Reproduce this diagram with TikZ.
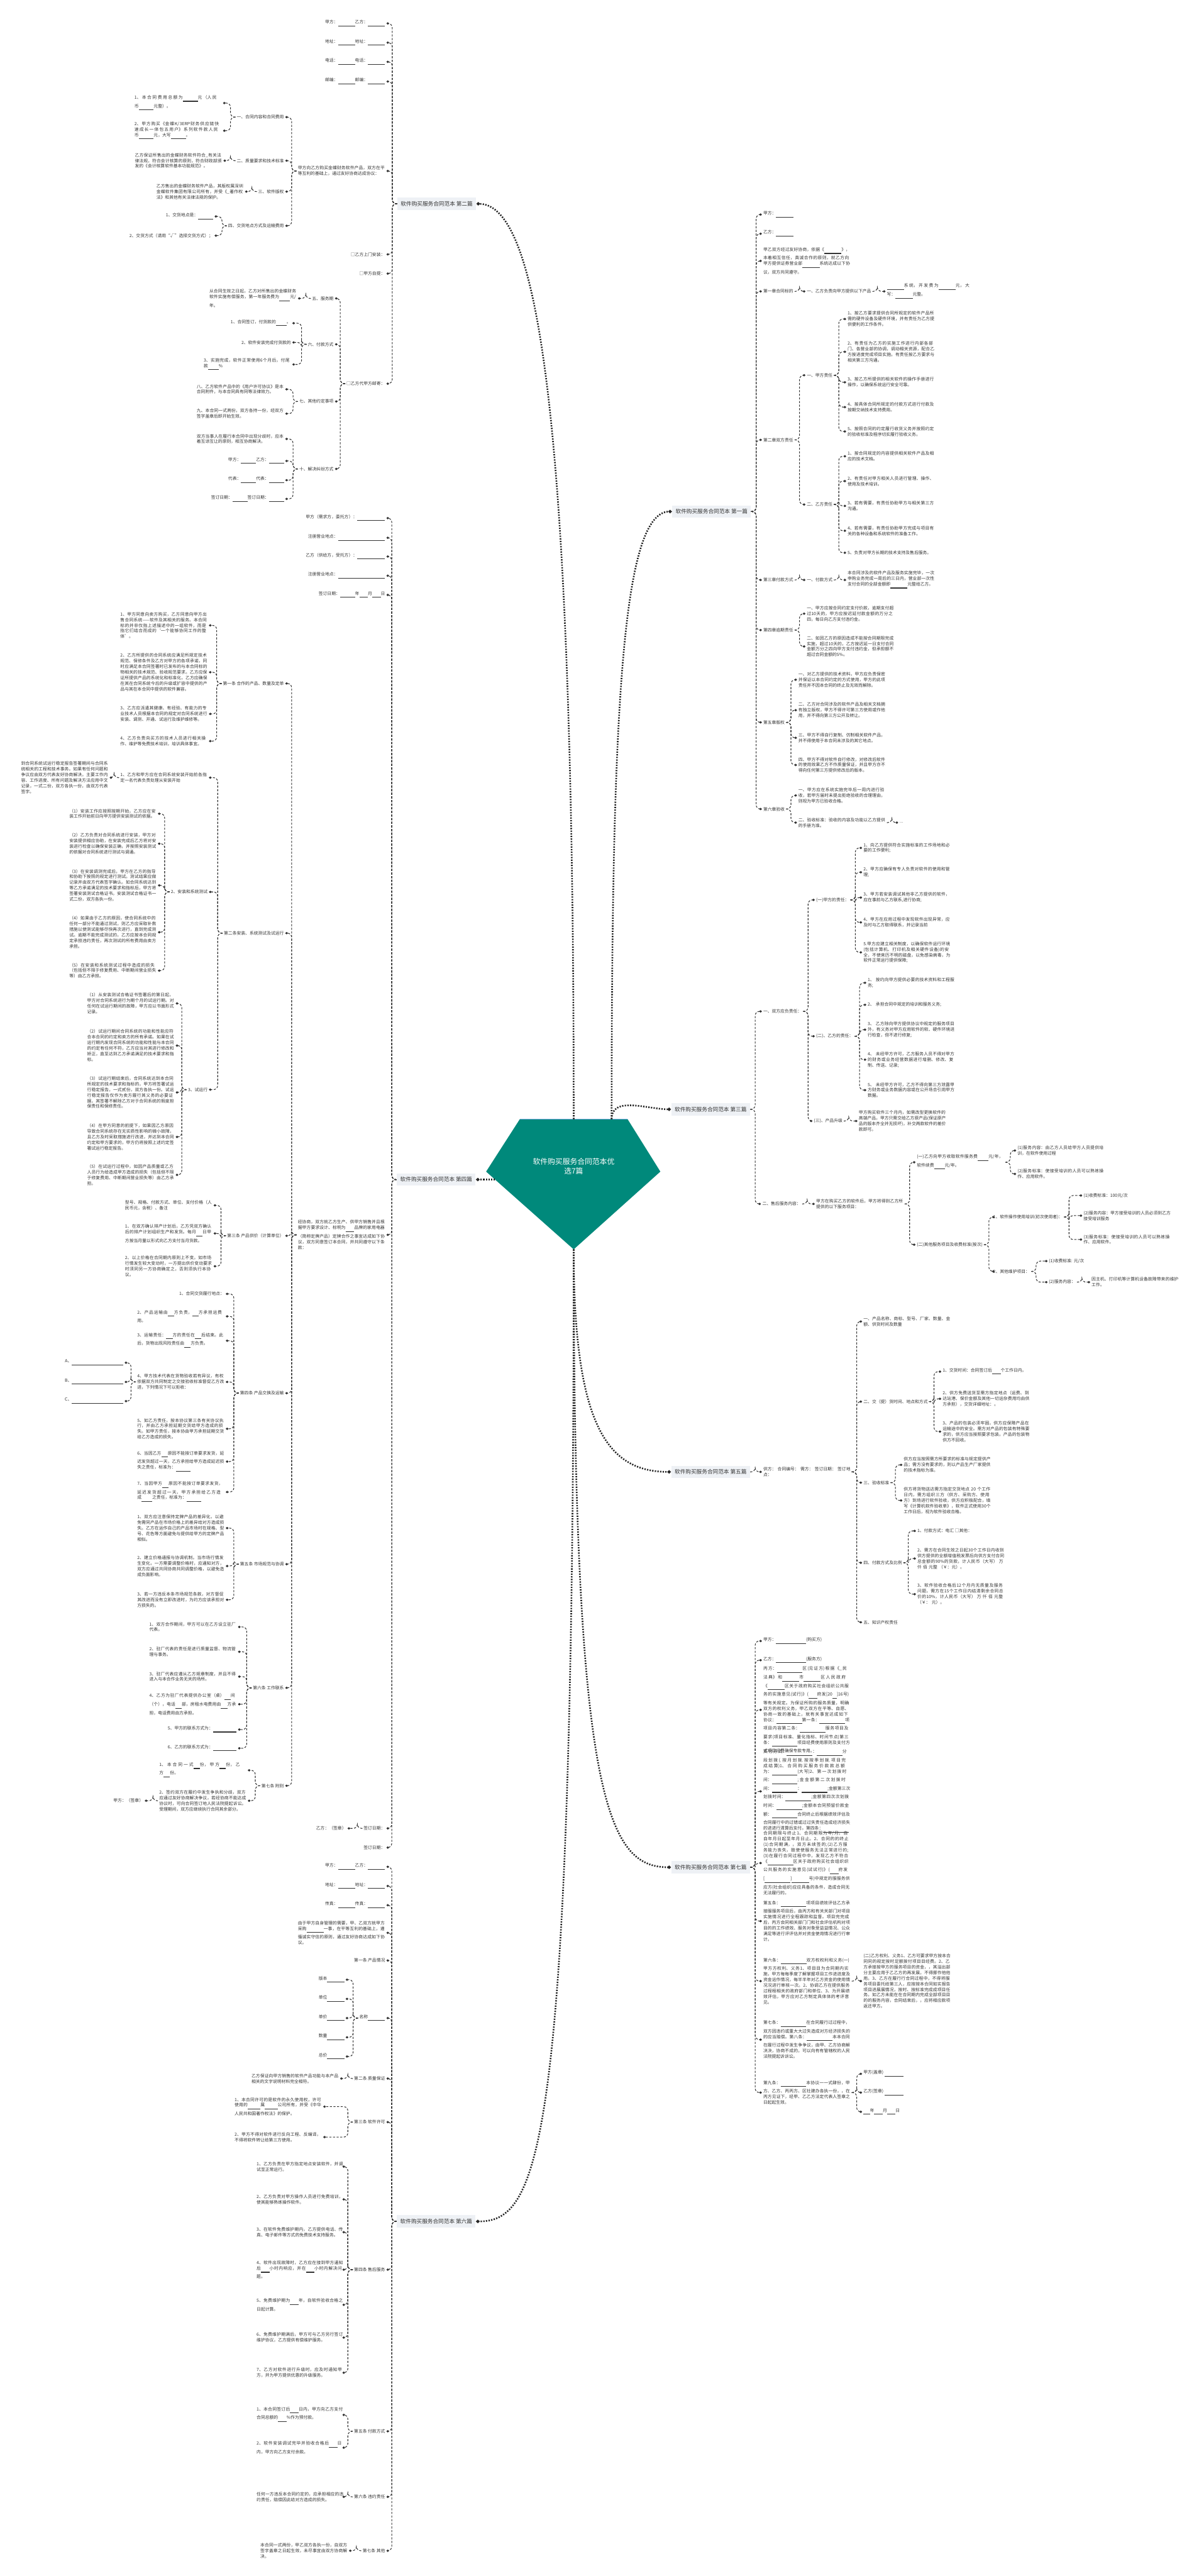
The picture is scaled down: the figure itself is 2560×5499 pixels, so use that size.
\documentclass[tikz,border=0pt]{standalone}
\usepackage{fontspec}
\setmainfont{Noto Sans CJK SC}
\XeTeXlinebreaklocale "zh"
\XeTeXlinebreakskip = 0pt plus 1pt
\usetikzlibrary{arrows.meta, positioning}
\definecolor{hubfill}{RGB}{0,137,123}
\definecolor{hubline}{RGB}{120,170,220}
\definecolor{partbg}{RGB}{238,241,245}
\definecolor{ink}{RGB}{51,51,51}
\newcommand{\bk}[1]{\underline{\hspace{#1em}}}

\begin{document}
\begin{tikzpicture}[
    x=0.01cm, y=-0.01cm,
    leaf/.style={font=\fontsize{2.6pt}{3.4pt}\selectfont, text width=1.86cm, align=left, inner sep=0.6pt, text=ink},
    tag/.style={font=\fontsize{2.6pt}{3.4pt}\selectfont, inner sep=0.6pt, text=ink},
    part/.style={font=\fontsize{3.3pt}{4pt}\selectfont, fill=partbg, inner xsep=2pt, inner ysep=2.2pt, text=ink},
    link/.style={dash pattern=on 1.3pt off 0.9pt, line width=0.4pt, draw=ink, rounded corners=0.9mm, -{Diamond[length=1.7pt,width=1.5pt]}},
    trunk/.style={dash pattern=on 0.8pt off 0.8pt, line width=1pt, draw=black!85, -{Diamond[length=2.4pt,width=2.2pt]}}
]
\path[use as bounding box, fill=white] (0,0) rectangle (2560,5499);

% hub
\fill[hubfill] (1110,2389) -- (1340,2389) -- (1410,2501) -- (1225,2667) -- (1038,2501) -- cycle;
\draw[hubline, line width=0.6pt] (1110,2389) -- (1340,2389);
\node[font=\fontsize{4.5pt}{5.6pt}\selectfont, text=white, align=center] (hub) at (1225,2490) {软件购买服务合同范本优\\选7篇};
\coordinate (hubN) at (1225,2389);
\coordinate (hubNE) at (1306,2389);
\coordinate (hubS) at (1225,2667);
\coordinate (hubW) at (1057,2518);

% branch labels
\node[part, anchor=west] (p1) at (1435,1092) {软件购买服务合同范本 第一篇};
\node[part, anchor=west] (p3) at (1433,2368) {软件购买服务合同范本 第三篇};
\node[part, anchor=west] (p5) at (1433,3142) {软件购买服务合同范本 第五篇};
\node[part, anchor=west] (p7) at (1433,3986) {软件购买服务合同范本 第七篇};
\node[part, anchor=east] (p2) at (1017,435) {软件购买服务合同范本 第二篇};
\node[part, anchor=east] (p4) at (1016,2518) {软件购买服务合同范本 第四篇};
\node[part, anchor=east] (p6) at (1016,4742) {软件购买服务合同范本 第六篇};

\draw[trunk] (hubNE) .. controls (1306,1500) and (1330,1092) .. (p1.west);
\draw[trunk] (hubNE) to[out=90,in=180] (p3.west);
\draw[trunk] (hubS) .. controls (1225,3050) and (1300,3142) .. (p5.west);
\draw[trunk] (hubS) .. controls (1225,3850) and (1300,3986) .. (p7.west);
\draw[trunk] (hubN) .. controls (1225,900) and (1150,435) .. (p2.east);
\draw[trunk] (hubW) -- (p4.east);
\draw[trunk] (hubS) .. controls (1225,4600) and (1150,4742) .. (p6.east);

% ---------- 第一篇
\node[tag, anchor=west] (p1a) at (1627,458) {甲方：\bk{4}};
\node[tag, anchor=west] (p1b) at (1627,499) {乙方：\bk{4}};
\node[leaf, anchor=west] (p1c) at (1627,557) {甲乙双方经过友好协商，依据《\bk{4}》，本着相互信任，真诚合作的原则，就乙方向甲方提供证券营业部\bk{4}系统达成以下协议，双方共同遵守。};
\node[tag, anchor=west] (p1d) at (1627,622) {第一章合同标的};
\node[tag, anchor=west] (p1d1) at (1720,622) {一、乙方负责向甲方提供以下产品};
\node[leaf, anchor=west] (p1d1a) at (1891,622) {\bk{4}系统，开发费为\bk{4}元，大写：\bk{4}元整。};
\node[tag, anchor=west] (p1e) at (1627,939) {第二章双方责任};
\node[tag, anchor=west] (p1e1) at (1720,801) {一、甲方责任};
\node[leaf, anchor=west] (p1e1a) at (1807,681) {1、按乙方要求提供合同所规定的软件产品所需的硬件设备及硬件环境，并有责任为乙方提供便利的工作条件。};
\node[leaf, anchor=west] (p1e1b) at (1807,751) {2、有责任为乙方的实施工作进行内部各部门、各营业部的协调，调动相关资源，配合乙方按进度完成项目实施。有责任按乙方要求与相关第三方沟通。};
\node[leaf, anchor=west] (p1e1c) at (1807,816) {3、按乙方所提供的相关软件的操作手册进行操作，以确保系统运行安全可靠。};
\node[leaf, anchor=west] (p1e1d) at (1807,869) {4、按具体合同所规定的付款方式进行付款及按期交纳技术支持费用。};
\node[leaf, anchor=west] (p1e1e) at (1807,921) {5、按照合同的约定履行收货义务并按照约定的验收标准及程序切实履行验收义务。};
\node[tag, anchor=west] (p1e2) at (1720,1077) {二、乙方责任};
\node[leaf, anchor=west] (p1e2a) at (1807,974) {1、按合同规定的内容提供相关软件产品及相应的技术文档。};
\node[leaf, anchor=west] (p1e2b) at (1807,1027) {2、有责任对甲方相关人员进行管理、操作、使用及技术培训。};
\node[leaf, anchor=west] (p1e2c) at (1807,1080) {3、若有需要，有责任协助甲方与相关第三方沟通。};
\node[leaf, anchor=west] (p1e2d) at (1807,1133) {4、若有需要，有责任协助甲方完成与项目有关的各种设备和系统软件的准备工作。};
\node[leaf, anchor=west] (p1e2e) at (1807,1180) {5、负责对甲方长期的技术支持及售后服务。};
\node[tag, anchor=west] (p1f) at (1627,1238) {第三章付款方式};
\node[tag, anchor=west] (p1f1) at (1720,1238) {一、付款方式};
\node[leaf, anchor=west] (p1f1a) at (1807,1238) {本合同涉及的软件产品及服务实施完毕，一次申购业务完成一周后的三日内，营业部一次性支付合同的全部金额即\bk{4}元整给乙方。};
\node[tag, anchor=west] (p1g) at (1627,1345) {第四章逾期责任};
\node[leaf, anchor=west] (p1g1) at (1720,1310) {一、甲方应按合同约定支付价款，逾期支付超过10天的，甲方应按迟延付款金额的万分之四，每日向乙方支付违约金。};
\node[leaf, anchor=west] (p1g2) at (1720,1380) {二、如因乙方的原因造成不能按合同期限完成实施，超过10天的，乙方按迟延一日支付合同金额万分之四向甲方支付违约金，但承担额不超过合同金额的5\%。};
\node[tag, anchor=west] (p1h) at (1627,1542) {第五章版权};
\node[leaf, anchor=west] (p1h1) at (1702,1451) {一、对乙方提供的技术资料，甲方应负责保密并保证以本合同约定的方式使用，甲方的此项责任并不因本合同的终止及无效而解除。};
\node[leaf, anchor=west] (p1h2) at (1702,1516) {二、乙方对合同涉及的软件产品及相关文档拥有独立版权，甲方不得许可第三方使用或作他用，并不得向第三方公开及转让。};
\node[leaf, anchor=west] (p1h3) at (1702,1575) {三、甲方不得自行复制、仿制相关软件产品，并不得使用于本合同未涉及的其它地点。};
\node[leaf, anchor=west] (p1h4) at (1702,1633) {四、甲方不得对软件自行修改，对修改后软件的使用效果乙方不作质量保证，并且甲方亦不得向任何第三方提供修改后的版本。};
\node[tag, anchor=west] (p1i) at (1627,1727) {第六章验收};
\node[leaf, anchor=west] (p1i1) at (1702,1698) {一、甲方应在系统实施完毕后一周内进行验收，若甲方届时未提出拒绝验收的合理理由，则视为甲方已验收合格。};
\node[leaf, anchor=west] (p1i2) at (1702,1756) {二、验收标准：验收的内容及功能以乙方提供的手册为准。};
\node[tag, anchor=west] (p1i2a) at (1918,1756) {...};

\foreach \ch in {p1a,p1b,p1c,p1d,p1e,p1f,p1g,p1h,p1i} \draw[link] (p1.east) -- ++(3pt,0) |- (\ch.west);
\draw[link] (p1d.east) -- ++(3pt,0) |- (p1d1.west);
\draw[link] (p1d1.east) -- ++(3pt,0) |- (p1d1a.west);
\foreach \ch in {p1e1,p1e2} \draw[link] (p1e.east) -- ++(3pt,0) |- (\ch.west);
\foreach \ch in {p1e1a,p1e1b,p1e1c,p1e1d,p1e1e} \draw[link] (p1e1.east) -- ++(3pt,0) |- (\ch.west);
\foreach \ch in {p1e2a,p1e2b,p1e2c,p1e2d,p1e2e} \draw[link] (p1e2.east) -- ++(3pt,0) |- (\ch.west);
\draw[link] (p1f.east) -- ++(3pt,0) |- (p1f1.west);
\draw[link] (p1f1.east) -- ++(3pt,0) |- (p1f1a.west);
\foreach \ch in {p1g1,p1g2} \draw[link] (p1g.east) -- ++(3pt,0) |- (\ch.west);
\foreach \ch in {p1h1,p1h2,p1h3,p1h4} \draw[link] (p1h.east) -- ++(3pt,0) |- (\ch.west);
\foreach \ch in {p1i1,p1i2} \draw[link] (p1i.east) -- ++(3pt,0) |- (\ch.west);
\draw[link] (p1i2.east) -- ++(3pt,0) |- (p1i2a.west);

% ---------- 第三篇
\node[tag, anchor=west] (p3a) at (1627,2159) {一、双方应负责任：};
\node[tag, anchor=west] (p3a1) at (1740,1921) {(一)甲方的责任：};
\node[leaf, anchor=west] (p3a1a) at (1841,1810) {1、向乙方提供符合实施标准的工作场地和必要的工作便利;};
\node[leaf, anchor=west] (p3a1b) at (1841,1862) {2、甲方应确保有专人负责对软件的使用和管理;};
\node[leaf, anchor=west] (p3a1c) at (1841,1916) {3、甲方若安装调试其他非乙方提供的软件，应在事前与乙方联系,进行协商;};
\node[leaf, anchor=west] (p3a1d) at (1841,1969) {4、甲方在应用过程中发现软件出现异常，应及时与乙方取得联系，并记录当前};
\node[leaf, anchor=west] (p3a1e) at (1841,2033) {5.甲方应建立相关制度，以确保软件运行环境(包括计算机、打印机及相关硬件设备)的安全，不使来历不明的磁盘，以免感染病毒，为软件正常运行提供保障;};
\node[tag, anchor=west] (p3a2) at (1740,2212) {(二)、乙方的责任：};
\node[leaf, anchor=west] (p3a2a) at (1850,2098) {1、 按约向甲方提供必要的技术资料和工程服务;};
\node[leaf, anchor=west] (p3a2b) at (1850,2145) {2、 承担合同中规定的培训和服务义务;};
\node[leaf, anchor=west] (p3a2c) at (1850,2198) {3、 乙方除向甲方提供协议中规定的服务项目外，有义务对甲方应用软件的软、硬件环境进行检查，但不进行修复;};
\node[leaf, anchor=west] (p3a2d) at (1850,2262) {4、 未经甲方许可，乙方服务人员不得对甲方的财务或业务经营数据进行增删、修改、复制、传送、记录;};
\node[leaf, anchor=west] (p3a2e) at (1850,2327) {5、 未经甲方许可，乙方不得向第三方泄露甲方财务或业务数据内容或在公开场合引用甲方数据。};
\node[tag, anchor=west] (p3a3) at (1735,2393) {(三)、产品升级};
\node[leaf, anchor=west] (p3a3a) at (1831,2393) {甲方购买软件三个月内，如需改型更换软件的高端产品，甲方只需交给乙方原产品(保证原产品的版本齐全并无损坏)，补交两款软件的差价款即可。};
\node[tag, anchor=west] (p3b) at (1625,2570) {二、售后服务内容：};
\node[leaf, anchor=west] (p3b1) at (1740,2570) {甲方在购买乙方的软件后，甲方将得到乙方所提供的以下服务项目：};
\node[leaf, anchor=west] (p3b1a) at (1955,2481) {(一)乙方向甲方收取软件服务费\bk{2.5}元/年，软件续费\bk{2.5}元/年。};
\node[leaf, anchor=west] (p3b1a1) at (2170,2456) {(1)服务内容：由乙方人员给甲方人员提供培训，在软件使用过程};
\node[leaf, anchor=west] (p3b1a2) at (2170,2506) {(2)服务标准：使接受培训的人员可以熟练操作、应用软件。};
\node[tag, anchor=west] (p3b1b) at (1955,2657) {(二)其他服务项目及收费标准(按次)};
\node[tag, anchor=west] (p3b1b1) at (2118,2598) {1、软件操作使用培训(初次使用者)：};
\node[tag, anchor=west] (p3b1b1a) at (2311,2552) {(1)收费标准：100元/次};
\node[leaf, anchor=west] (p3b1b1b) at (2311,2595) {(2)服务内容：甲方接受培训的人员必须到乙方接受培训服务};
\node[leaf, anchor=west] (p3b1b1c) at (2311,2646) {(3)服务标准：使接受培训的人员可以熟练操作、应用软件。};
\node[tag, anchor=west] (p3b1b2) at (2118,2714) {2、其他维护项目：};
\node[tag, anchor=west] (p3b1b2a) at (2237,2692) {(1)收费标准: 元/次};
\node[tag, anchor=west] (p3b1b2b) at (2237,2737) {(2)服务内容：};
\node[leaf, anchor=west] (p3b1b2b1) at (2328,2737) {因主机、打印机等计算机设备故障带来的维护工作。};

\foreach \ch in {p3a,p3b} \draw[link] (p3.east) -- ++(3pt,0) |- (\ch.west);
\foreach \ch in {p3a1,p3a2,p3a3} \draw[link] (p3a.east) -- ++(3pt,0) |- (\ch.west);
\foreach \ch in {p3a1a,p3a1b,p3a1c,p3a1d,p3a1e} \draw[link] (p3a1.east) -- ++(3pt,0) |- (\ch.west);
\foreach \ch in {p3a2a,p3a2b,p3a2c,p3a2d,p3a2e} \draw[link] (p3a2.east) -- ++(3pt,0) |- (\ch.west);
\draw[link] (p3a3.east) -- ++(3pt,0) |- (p3a3a.west);
\draw[link] (p3b.east) -- ++(3pt,0) |- (p3b1.west);
\foreach \ch in {p3b1a,p3b1b} \draw[link] (p3b1.east) -- ++(3pt,0) |- (\ch.west);
\foreach \ch in {p3b1a1,p3b1a2} \draw[link] (p3b1a.east) -- ++(3pt,0) |- (\ch.west);
\foreach \ch in {p3b1b1,p3b1b2} \draw[link] (p3b1b.east) -- ++(3pt,0) |- (\ch.west);
\foreach \ch in {p3b1b1a,p3b1b1b,p3b1b1c} \draw[link] (p3b1b1.east) -- ++(3pt,0) |- (\ch.west);
\foreach \ch in {p3b1b2a,p3b1b2b} \draw[link] (p3b1b2.east) -- ++(3pt,0) |- (\ch.west);
\draw[link] (p3b1b2b.east) -- ++(3pt,0) |- (p3b1b2b1.west);

% ---------- 第五篇
\node[leaf, anchor=west] (p5a) at (1627,3142) {供方：\ 合同编号：\ 需方：\ 签订日期：\ 签订地点：};
\node[leaf, anchor=west] (p5a1) at (1841,2821) {一、产品名称、商标、型号、厂家、数量、金额、供货时间及数量};
\node[tag, anchor=west] (p5a2) at (1841,2992) {二、交（提）货时间、地点和方式};
\node[leaf, anchor=west] (p5a2a) at (2010,2928) {1、交货时间：合同签订后\bk{2}个工作日内。};
\node[leaf, anchor=west] (p5a2b) at (2010,2986) {2、供方免费送货至需方指定地点（运费、到达站港、保价金额及其他一切运杂费用均由供方承担），交货详细地址：。};
\node[leaf, anchor=west] (p5a2c) at (2010,3056) {3、产品的包装必须牢固，供方应保障产品在运输途中的安全。需方对产品的包装有特殊要求的，供方应当按照要求包装。产品的包装物供方不回收。};
\node[tag, anchor=west] (p5a3) at (1841,3165) {三、验收标准};
\node[leaf, anchor=west] (p5a3a) at (1927,3127) {供方应当按照需方所要求的标准与规定提供产品；需方没有要求的，则以产品生产厂家提供的技术指标为准。};
\node[leaf, anchor=west] (p5a3b) at (1927,3203) {供方将货物送达需方指定交货地点 20 个工作日内，需方组织三方（供方、采购方、使用方）到场进行软件验收，供方应积极配合，填写《计算机软件验收单》，软件正式使用30个工作日后，视为软件验收合格。};
\node[tag, anchor=west] (p5a4) at (1841,3336) {四、付款方式及比例};
\node[tag, anchor=west] (p5a4a) at (1956,3268) {1、付款方式：电汇 □其他：};
\node[leaf, anchor=west] (p5a4b) at (1956,3327) {2、需方在合同生效之日起30个工作日内收到供方提供的全额增值税发票后向供方支付合同总金额的90\%的货款，计人民币（大写） 万 仟 佰 元整 （￥：元）。};
\node[leaf, anchor=west] (p5a4c) at (1956,3403) {3、软件验收合格后12个月内无质量及服务问题，需方在15个工作日内结清剩余合同总价的10\%，计人民币（大写） 万 仟 佰 元整（￥： 元）。};
\node[tag, anchor=west] (p5a5) at (1841,3463) {五、知识产权责任};

\draw[link] (p5.east) -- ++(3pt,0) |- (p5a.west);
\foreach \ch in {p5a1,p5a2,p5a3,p5a4,p5a5} \draw[link] (p5a.east) -- ++(3pt,0) |- (\ch.west);
\foreach \ch in {p5a2a,p5a2b,p5a2c} \draw[link] (p5a2.east) -- ++(3pt,0) |- (\ch.west);
\foreach \ch in {p5a3a,p5a3b} \draw[link] (p5a3.east) -- ++(3pt,0) |- (\ch.west);
\foreach \ch in {p5a4a,p5a4b,p5a4c} \draw[link] (p5a4.east) -- ++(3pt,0) |- (\ch.west);

% ---------- 第七篇
\node[tag, anchor=west] (p7a) at (1627,3503) {甲方：\bk{7}(购买方)};
\node[tag, anchor=west] (p7b) at (1627,3544) {乙方：\bk{7}(服务方)};
\node[leaf, anchor=west] (p7c) at (1627,3650) {丙方：\bk{6}区(见证方)根据《\_民法典》和\bk{4}市\bk{4}区人民政府《\bk{4}区关于政府购买社会组织公共服务的实施意见(试行)》(\bk{2}府发[20\bk{1}]16号)等有关规定。为保证所购的服务质量，明确双方的权利义务，甲乙双方在平等、自愿、协商一致的基础上，就有关事宜达成如下协议：\bk{6}第一条：\bk{6}项项目内容第二条：\bk{6}服务项目及要求(项目标准、量化指标、时间节点)第三条：\bk{6}项目经费使用原则及支付方式项目经费确保专款专用。};
\node[leaf, anchor=west] (p7d) at (1627,3824) {支付方式：\bk{6}：\bk{6}分段划拨(.按月划拨.按按季划拨.项目完成结算)1、合同购买服务价款款总额为：\bk{6}(大写)2、第一次划拨时间：\bk{6};金金额第二次划拨时间：\bk{6}：\bk{6};金额第三次划拨时间：\bk{6};金额第四次次划拨时间：\bk{6};金额本合同预留价款金额：\bk{6}合同终止后根据绩效评估及合同履行中的过错或过过失责任造成经济损失的进进行清算后支付。第四条：\bk{6}};
\node[leaf, anchor=west] (p7e) at (1627,3977) {合同期限与终止1、合同期限为年/月，自自年月日起至年月日止。2、合同的的终止(1)合同期满，，双方未续签的;(2)乙方服务能力丧失，致使使服务无法正常进行的;(3)在履行合同过程中中，发现乙方不符合《\bk{6}区关于政府购买社会组织织公共服务的实施意见(试试行)》(\bk{2}府发[\bk{6}]\bk{4}号)中规定的服服务供应方(社会组织)应应具备的条件，造成合同无无法履行的。};
\node[leaf, anchor=west] (p7f) at (1627,4101) {第五条：\bk{6}项项目绩效评估乙方承接服服务项目后，由丙方和有关关部门对项目实施情况进行全程跟踪和监督。项目完完成后，丙方会同相关部门门和社会评估机构对项目的的工作绩效、服务对象受益益情况、公众满足等进行评评估并对资金使用情况进行行审计。};
\node[leaf, anchor=west] (p7g) at (1627,4229) {第六条：\bk{6}双方权权利和义务(一)甲方方权利、义务1、项目目为合同期内实施，甲方每每季度了解掌握项目工作进进度及资金运作情况，每半半年对乙方资金的使用情况况进行审核一次。2、协调乙方在提供服务过程程相关的政府部门和单位、3、为开展绩效评估，甲方应对乙方制定具体体的考评意见。};
\node[leaf, anchor=west] (p7g1) at (1841,4229) {(二)乙方权利、义务1、乙方可要求甲方按本合同同的规定按时足额拨付项目目经费。2、乙方承接按甲方的服务项目的资金，，其溢出部分主要应用于乙乙方的再发展，不得挪作他他用。3、乙方在履行行合同过程中，不得将服务项目委托给第三人，应按按本合同如实报告项目进展展情况，按时、按标准完成成项目任务。如乙方未能在在合同期内完成全部项目目的的服务内容，合同结束后，，应将相应款项返还甲方。};
\node[leaf, anchor=west] (p7h) at (1627,4354) {第七条：\bk{6}在合同履行过过程中，双方因违约或重大大过失造成对方经济损失的的应当赔偿。第八条：\bk{6}本本合同在履行过程中发生争争议，由甲、乙方协商解决决，协商不成的，可以向有有管辖权的人民法院提起诉诉讼。};
\node[leaf, anchor=west] (p7i) at (1627,4467) {第九条：\bk{6}本协议一一式肆份，甲方、乙方、丙丙方、区社建办各执一份，，在丙方见证下，经甲、乙乙方法定代表人签章之日起起生效。};
\node[tag, anchor=west] (p7i1) at (1841,4427) {甲方(盖章) \bk{4.5}};
\node[tag, anchor=west] (p7i2) at (1841,4467) {乙方(签章) \bk{4.5}};
\node[tag, anchor=west] (p7i3) at (1841,4508) {\bk{1.5}年\bk{2}月\bk{2}日};

\foreach \ch in {p7a,p7b,p7c,p7d,p7e,p7f,p7g,p7h,p7i} \draw[link] (p7.east) -- ++(3pt,0) |- (\ch.west);
\draw[link] (p7g.east) -- ++(3pt,0) |- (p7g1.west);
\foreach \ch in {p7i1,p7i2,p7i3} \draw[link] (p7i.east) -- ++(3pt,0) |- (\ch.west);

% ---------- 第二篇
\node[tag, anchor=east] (p2a) at (825,50) {甲方：\bk{4}乙方：\bk{4}};
\node[tag, anchor=east] (p2b) at (825,91) {地址：\bk{4}地址：\bk{4}};
\node[tag, anchor=east] (p2c) at (825,132) {电话：\bk{4}电话：\bk{4}};
\node[tag, anchor=east] (p2d) at (825,174) {邮编：\bk{4}邮编：\bk{4}};
\node[leaf, anchor=east] (p2e) at (825,365) {甲方向乙方购买金蝶财务软件产品，双方在平等互利的基础上，通过友好协商达成协议：};
\node[tag, anchor=east] (p2e1) at (609,250) {一、合同内容和合同费用};
\node[leaf, anchor=east] (p2e1a) at (476,220) {1、本合同费用总额为\bk{3.5}元（人民币\bk{3.5}元整）。};
\node[leaf, anchor=east] (p2e1b) at (476,279) {2、甲方购买《金蝶K/3ERP财务供应链快速成长一体包五用户》系列软件款人民币\bk{3.5}元，大写\bk{3.5}。};
\node[tag, anchor=east] (p2e2) at (609,343) {二、质量要求和技术标准};
\node[leaf, anchor=east] (p2e2a) at (477,343) {乙方保证所售出的金蝶财务软件符合\_有关法律法规，符合会计核算的原则，符合财政部颁发的《会计核算软件基本功能规范》。};
\node[tag, anchor=east] (p2e3) at (609,409) {三、软件版权};
\node[leaf, anchor=east] (p2e3a) at (523,409) {乙方售出的金蝶财务软件产品，其版权属深圳金蝶软件集团有限公司所有，并受《\_著作权法》和其他有关法律法规的保护。};
\node[tag, anchor=east] (p2e4) at (609,482) {四、交货地点方式及运输费用};
\node[tag, anchor=east] (p2e4a) at (458,462) {1、交货地点是：\bk{3.5}};
\node[tag, anchor=east] (p2e4b) at (458,503) {2、交货方式（请用“√”选择交货方式）；};
\node[tag, anchor=east] (p2f) at (825,543) {□乙方上门安装：};
\node[tag, anchor=east] (p2g) at (825,584) {□甲方自提：};
\node[tag, anchor=east] (p2h) at (825,819) {□乙方代甲方邮寄：};
\node[tag, anchor=east] (p2h1) at (715,637) {五、服务期};
\node[leaf, anchor=east] (p2h1a) at (636,637) {从合同生效之日起，乙方对所售出的金蝶财务软件实施有偿服务，第一年服务费为\bk{2.5}元/年。};
\node[tag, anchor=east] (p2h2) at (715,735) {六、付款方式};
\node[tag, anchor=east] (p2h2a) at (624,690) {1、合同签订，付货款的\bk{2.5}。};
\node[tag, anchor=east] (p2h2b) at (624,731) {2、软件安装完成付货款的};
\node[leaf, anchor=east] (p2h2c) at (624,778) {3、实施完成，软件正常使用6个月后，付尾款\bk{2.5}\%};
\node[tag, anchor=east] (p2h3) at (715,857) {七、其他约定事项};
\node[leaf, anchor=east] (p2h3a) at (609,831) {八、乙方软件产品中的《用户许可协议》是本合同附件，与本合同具有同等法律效力。};
\node[leaf, anchor=east] (p2h3b) at (609,883) {九、本合同一式两份，双方各持一份，经双方签字盖章后即开始生效。};
\node[tag, anchor=east] (p2h4) at (715,1001) {十、解决纠纷方式};
\node[leaf, anchor=east] (p2h4a) at (609,937) {双方当事人在履行本合同中出现分歧时，应本着互谅互让的原则，相互协商解决。};
\node[tag, anchor=east] (p2h4b) at (609,984) {甲方：\bk{3.5}乙方：\bk{3.5}};
\node[tag, anchor=east] (p2h4c) at (609,1025) {代表：\bk{3.5}代表：\bk{3.5}};
\node[tag, anchor=east] (p2h4d) at (609,1065) {签订日期：\bk{3.5}签订日期：\bk{3.5}};

\foreach \ch in {p2a,p2b,p2c,p2d,p2e,p2f,p2g,p2h} \draw[link] (p2.west) -- ++(-3pt,0) |- (\ch.east);
\foreach \ch in {p2e1,p2e2,p2e3,p2e4} \draw[link] (p2e.west) -- ++(-3pt,0) |- (\ch.east);
\foreach \ch in {p2e1a,p2e1b} \draw[link] (p2e1.west) -- ++(-3pt,0) |- (\ch.east);
\draw[link] (p2e2.west) -- ++(-3pt,0) |- (p2e2a.east);
\draw[link] (p2e3.west) -- ++(-3pt,0) |- (p2e3a.east);
\foreach \ch in {p2e4a,p2e4b} \draw[link] (p2e4.west) -- ++(-3pt,0) |- (\ch.east);
\foreach \ch in {p2h1,p2h2,p2h3,p2h4} \draw[link] (p2h.west) -- ++(-3pt,0) |- (\ch.east);
\draw[link] (p2h1.west) -- ++(-3pt,0) |- (p2h1a.east);
\foreach \ch in {p2h2a,p2h2b,p2h2c} \draw[link] (p2h2.west) -- ++(-3pt,0) |- (\ch.east);
\foreach \ch in {p2h3a,p2h3b} \draw[link] (p2h3.west) -- ++(-3pt,0) |- (\ch.east);
\foreach \ch in {p2h4a,p2h4b,p2h4c,p2h4d} \draw[link] (p2h4.west) -- ++(-3pt,0) |- (\ch.east);

% ---------- 第四篇
\node[tag, anchor=east] (p4a) at (825,1106) {甲方（需求方，委托方）：\bk{6.5}};
\node[tag, anchor=east] (p4b) at (825,1148) {注册营业地点：\bk{11}};
\node[tag, anchor=east] (p4c) at (825,1188) {乙方（供给方，受托方）：\bk{6.5}};
\node[tag, anchor=east] (p4d) at (825,1229) {注册营业地点：\bk{11}};
\node[tag, anchor=east] (p4e) at (825,1270) {签订日期：\bk{3.5}年\bk{2}月\bk{2}日};
\node[leaf, anchor=east] (p4f) at (825,2636) {经协商，双方就乙方生产、供甲方销售并且根据甲方要求设计、标明为\bk{2}品牌的家用电器（简称定牌产品）定牌合作之事宜达成如下协议，双方同意签订本合同，并共同遵守以下条款：};
\node[tag, anchor=east] (p4f1) at (609,1459) {第一条 合作的产品、数量及定单};
\node[leaf, anchor=east] (p4f1a) at (446,1335) {1、甲方同意向卖方购买，乙方同意向甲方出售合同系统——软件及其相关的服务。本合同标的并非仅指上述描述中的一组软件，而是指它们结合而成的‘一个能够协同工作的整体’。};
\node[leaf, anchor=east] (p4f1b) at (446,1435) {2、乙方所提供的合同系统应满足所规定技术规范、保修条件及乙方对甲方的各项承诺，同时应满足本合同签署时已发布的与本合同标的物相关的技术规范、验收规范要求。乙方应保证所提供产品的系统化和标准化，乙方应确保在其在合同系统今后的升级或扩容中提供的产品与其在本合同中提供的软件兼容。};
\node[leaf, anchor=east] (p4f1c) at (446,1524) {3、乙方应派遣其健康、有经验、有能力的专业技术人员根据本合同的规定对合同系统进行安装、调测、开通、试运行及维护维修等。};
\node[leaf, anchor=east] (p4f1d) at (446,1582) {4、乙方负责向买方的技术人员进行相关操作、维护等免费技术培训，培训具体事宜。};
\node[tag, anchor=east] (p4f2) at (609,1992) {第二条安装、系统测试及试运行};
\node[leaf, anchor=east] (p4f2a) at (446,1660) {1、乙方和甲方应在合同系统安装开始前各指定一名代表负责处理从安装开始};
\node[leaf, anchor=east] (p4f2a1) at (234,1660) {到合同系统试运行稳定报告签署期间与合同系统相关的工程和技术事务。如果有任何问题和争议应由双方代表友好协商解决。主要工作内容、工作进度、所有问题及解决方法应用中文记录，一式二份，双方各执一份，由双方代表签字。};
\node[tag, anchor=east] (p4f2b) at (446,1904) {2、安装和系统测试};
\node[leaf, anchor=east] (p4f2b1) at (337,1737) {（1）安装工作应按照按期开始，乙方应在安装工作开始前日向甲方提供安装测试的依据。};
\node[leaf, anchor=east] (p4f2b2) at (337,1801) {（2）乙方负责对合同系统进行安装，甲方对安装提供相应协助，在安装完成后乙方将对安装进行检查以确保安装正确，并按照安装测试的依据对合同系统进行测试与调通。};
\node[leaf, anchor=east] (p4f2b3) at (337,1890) {（3）在安装调测完成后，甲方在乙方的指导和协助下按照的规定进行测试。测试结果应做记录并由双方代表签字确认。如合同系统达到等乙方承诺满足的技术要求和指标后，甲方将签署安装测试合格证书。安装测试合格证书一式二份，双方各执一份。};
\node[leaf, anchor=east] (p4f2b4) at (337,1990) {（4）如果由于乙方的原因，使合同系统中的任何一部分不能通过测试，则乙方应采取补救措施以使测试能够尽快再次进行，直到完成测试。逾期不能完成测试的，乙方应按本合同规定承担违约责任，再次测试的所有费用由卖方承担。};
\node[leaf, anchor=east] (p4f2b5) at (337,2072) {（5）在安装和系统测试过程中造成的损失（包括但不限于修复费用、中断期间营业损失等）由乙方承担。};
\node[tag, anchor=east] (p4f2c) at (446,2326) {3、试运行};
\node[leaf, anchor=east] (p4f2c1) at (375,2142) {（1）从安装测试合格证书签署后的第日起，甲方对合同系统进行为期个月的试运行期。对任何在试运行期间的故障，甲方应以书面形式记录。};
\node[leaf, anchor=east] (p4f2c2) at (375,2232) {（2）试运行期间合同系统的功能和性能应符合本合同的约定和卖方的所有承诺。如果在试运行期内发现合同系统的功能和性能与本合同的约定有任何不符，乙方应当对其进行修改和矫正，直至达到乙方承诺满足的技术要求和指标。};
\node[leaf, anchor=east] (p4f2c3) at (375,2332) {（3）试运行期结束后，合同系统达到本合同所规定的技术要求和指标的，甲方将签署试运行稳定报告，一式贰份，双方各执一份。试运行稳定报告仅作为卖方履行其义务的必要证据，其签署不解除乙方对于合同系统的瑕疵担保责任和保修责任。};
\node[leaf, anchor=east] (p4f2c4) at (375,2427) {（4）在甲方同意的前提下，如果因乙方原因导致合同系统存在无实质性影响的微小故障，且乙方及时采取措施进行改进，并达到本合同约定和甲方要求的，甲方仍将按照上述约定签署试运行稳定报告。};
\node[leaf, anchor=east] (p4f2c5) at (375,2508) {（5）在试运行过程中，如因产品质量或乙方人员行为给造成甲方造成的损失（包括但不限于修复费用、中断期间营业损失等）由乙方承担。};
\node[tag, anchor=east] (p4f3) at (609,2638) {第三条 产品供价（计算单位）};
\node[leaf, anchor=east] (p4f3a) at (456,2573) {型号、规格、付款方式、单位、支付价格（人民币元，含税）、备注};
\node[leaf, anchor=east] (p4f3b) at (456,2633) {1、在双方确认排产计划后，乙方凭双方确认后的排产计划组织生产和发货。每月\bk{1.5}日甲方按当月量以形式向乙方支付当月货款。};
\node[leaf, anchor=east] (p4f3c) at (456,2703) {2、以上价格在合同期内原则上不变。如市场行情发生较大变动时，一方提出供价变动要求时须同另一方协商确定之，否则须执行本协议。};
\node[tag, anchor=east] (p4f4) at (609,2974) {第四条 产品交换及运输};
\node[tag, anchor=east] (p4f4a) at (482,2762) {1、合同交货履行地点：};
\node[leaf, anchor=east] (p4f4b) at (482,2810) {2、产品运输由\bk{1.5}方负责，\bk{1.5}方承担运费用。};
\node[leaf, anchor=east] (p4f4c) at (482,2862) {3、运输责任：\bk{1.5}方的责任在\bk{1.5}后结束。此后，货物出现风险责任由\bk{1.5}方负责。};
\node[leaf, anchor=east] (p4f4d) at (482,2950) {4、甲方技术代表在货物验收若有异议，有权依据双方共同制定之交接验收标准督促乙方改进，下列情况下可以拒收：};
\node[tag, anchor=east] (p4f4dA) at (266,2909) {A、\bk{12}};
\node[tag, anchor=east] (p4f4dB) at (266,2950) {B、\bk{12}};
\node[tag, anchor=east] (p4f4dC) at (266,2991) {C、\bk{12}};
\node[leaf, anchor=east] (p4f4e) at (482,3050) {5、如乙方责任，按本协议第三条有关协议执行，并由乙方承担延期交货给甲方造成的损失。如甲方责任，按本协由甲方承担延期交货给乙方造成的损失。};
\node[leaf, anchor=east] (p4f4f) at (482,3120) {6、当因乙方\bk{1.5}原因不能按订单要求发货，延迟发货超过一天，乙方承担给甲方造成延迟损失之责任，标准为：\bk{3.5}};
\node[leaf, anchor=east] (p4f4g) at (482,3185) {7、当因甲方\bk{1.5}原因不能按订单要求发货，延迟发货超过一天，甲方承担给乙方造成\bk{2.5}之责任，标准为：\bk{3.5}};
\node[tag, anchor=east] (p4f5) at (609,3339) {第五条 市场规范与协调};
\node[leaf, anchor=east] (p4f5a) at (482,3262) {1、双方应注意保持定牌产品的差异化，以避免需同产品在市场价格上的差异给对方造成损失。乙方在运作自己的产品市场时在规格、型号、花色等方面避免与提供给甲方的定牌产品相似。};
\node[leaf, anchor=east] (p4f5b) at (482,3343) {2、建立价格通报与协调机制。当市场行情发生变化，一方需要调整价格时，应通知对方，双方应通过共同协商共同调整价格，以避免造成负面影响。};
\node[leaf, anchor=east] (p4f5c) at (482,3415) {3、若一方违反本条市场规范条款，对方督促其改进而没有立即改进时，为约方应该承担对方损失的。};
\node[tag, anchor=east] (p4f6) at (609,3603) {第六条 工作联系};
\node[leaf, anchor=east] (p4f6a) at (508,3473) {1、双方合作期间，甲方可以在乙方设立驻厂代表。};
\node[leaf, anchor=east] (p4f6b) at (508,3526) {2、驻厂代表的责任是进行质量监督、物流管理与事务。};
\node[leaf, anchor=east] (p4f6c) at (508,3579) {3、驻厂代表应遵从乙方规章制度，并且不得进入与本合作业务无关的场所。};
\node[leaf, anchor=east] (p4f6d) at (508,3638) {4、乙方为驻厂代表提供办公室（桌）\bk{1.5}间（个），电话\bk{1.5}部，房租水电费用由\bk{1.5}方承担，电话费用由方承担。};
\node[tag, anchor=east] (p4f6e) at (508,3692) {5、甲方的联系方式为：\bk{5.5}};
\node[tag, anchor=east] (p4f6f) at (508,3732) {6、乙方的联系方式为：\bk{5.5}};
\node[tag, anchor=east] (p4f7) at (609,3812) {第七条 附则};
\node[leaf, anchor=east] (p4f7a) at (529,3779) {1、本合同一式\bk{1.5}份，甲方\bk{1.5}份，乙方\bk{1.5}份。};
\node[leaf, anchor=east] (p4f7b) at (529,3844) {2、签约双方在履约中发生争执和分歧，双方应通过友好协商解决争议，若经协商不能达成协议时，可向合同签订地人民法院提起诉讼。受理期间，双方应继续执行合同其余部分。};
\node[tag, anchor=east] (p4f7b1) at (309,3844) {甲方：（签章）};
\node[tag, anchor=east] (p4g) at (825,3903) {签订日期：};
\node[tag, anchor=east] (p4g1) at (742,3903) {乙方：（签章）};
\node[tag, anchor=east] (p4h) at (825,3944) {签订日期：};

\foreach \ch in {p4a,p4b,p4c,p4d,p4e,p4f,p4g,p4h} \draw[link] (p4.west) -- ++(-3pt,0) |- (\ch.east);
\foreach \ch in {p4f1,p4f2,p4f3,p4f4,p4f5,p4f6,p4f7} \draw[link] (p4f.west) -- ++(-3pt,0) |- (\ch.east);
\foreach \ch in {p4f1a,p4f1b,p4f1c,p4f1d} \draw[link] (p4f1.west) -- ++(-3pt,0) |- (\ch.east);
\foreach \ch in {p4f2a,p4f2b,p4f2c} \draw[link] (p4f2.west) -- ++(-3pt,0) |- (\ch.east);
\draw[link] (p4f2a.west) -- ++(-3pt,0) |- (p4f2a1.east);
\foreach \ch in {p4f2b1,p4f2b2,p4f2b3,p4f2b4,p4f2b5} \draw[link] (p4f2b.west) -- ++(-3pt,0) |- (\ch.east);
\foreach \ch in {p4f2c1,p4f2c2,p4f2c3,p4f2c4,p4f2c5} \draw[link] (p4f2c.west) -- ++(-3pt,0) |- (\ch.east);
\foreach \ch in {p4f3a,p4f3b,p4f3c} \draw[link] (p4f3.west) -- ++(-3pt,0) |- (\ch.east);
\foreach \ch in {p4f4a,p4f4b,p4f4c,p4f4d,p4f4e,p4f4f,p4f4g} \draw[link] (p4f4.west) -- ++(-3pt,0) |- (\ch.east);
\foreach \ch in {p4f4dA,p4f4dB,p4f4dC} \draw[link] (p4f4d.west) -- ++(-3pt,0) |- (\ch.east);
\foreach \ch in {p4f5a,p4f5b,p4f5c} \draw[link] (p4f5.west) -- ++(-3pt,0) |- (\ch.east);
\foreach \ch in {p4f6a,p4f6b,p4f6c,p4f6d,p4f6e,p4f6f} \draw[link] (p4f6.west) -- ++(-3pt,0) |- (\ch.east);
\foreach \ch in {p4f7a,p4f7b} \draw[link] (p4f7.west) -- ++(-3pt,0) |- (\ch.east);
\draw[link] (p4f7b.west) -- ++(-3pt,0) |- (p4f7b1.east);
\draw[link] (p4g.west) -- ++(-3pt,0) |- (p4g1.east);

% ---------- 第六篇
\node[tag, anchor=east] (p6a) at (825,3985) {甲方：\bk{4}乙方：\bk{4}};
\node[tag, anchor=east] (p6b) at (825,4026) {地址：\bk{4}地址：\bk{4}};
\node[tag, anchor=east] (p6c) at (825,4067) {传真：\bk{4}传真：\bk{4}};
\node[leaf, anchor=east] (p6d) at (825,4126) {由于甲方自身管理的需要，甲、乙双方就甲方采购\bk{4}一事，在平等互利的基础上，遵循诚实守信的原则，通过友好协商达成如下协议。};
\node[tag, anchor=east] (p6e) at (825,4185) {第一条 产品情况};
\node[tag, anchor=east] (p6f) at (825,4308) {名称\bk{4}};
\node[tag, anchor=east] (p6f1) at (738,4226) {版本\bk{4}};
\node[tag, anchor=east] (p6f2) at (738,4267) {单位\bk{4}};
\node[tag, anchor=east] (p6f3) at (738,4308) {单价\bk{4}};
\node[tag, anchor=east] (p6f4) at (738,4349) {数量\bk{4}};
\node[tag, anchor=east] (p6f5) at (738,4390) {总价\bk{4}};
\node[tag, anchor=east] (p6g) at (825,4437) {第二条 质量保证};
\node[leaf, anchor=east] (p6g1) at (726,4437) {乙方保证向甲方销售的软件产品功能与本产品相关的文字说明材料完全相符。};
\node[tag, anchor=east] (p6h) at (825,4530) {第三条 软件许可};
\node[leaf, anchor=east] (p6h1) at (690,4497) {1、本合同许可的是软件的永久使用权，许可使用的\bk{3}属\bk{3}公司所有，并受《中华人民共和国著作权法》的保护。};
\node[leaf, anchor=east] (p6h2) at (690,4562) {2、甲方不得对软件进行反向工程、反编译，不得将软件转让给第三方使用。};
\node[tag, anchor=east] (p6i) at (825,4845) {第四条 售后服务};
\node[leaf, anchor=east] (p6i1) at (737,4625) {1、乙方负责在甲方指定地点安装软件，并调试至正常运行。};
\node[leaf, anchor=east] (p6i2) at (737,4695) {2、乙方负责对甲方操作人员进行免费培训，使其能够熟练操作软件。};
\node[leaf, anchor=east] (p6i3) at (737,4765) {3、在软件免费维护期内，乙方提供电话、传真、电子邮件等方式的免费技术支持服务。};
\node[leaf, anchor=east] (p6i4) at (737,4845) {4、软件出现故障时，乙方应在接到甲方通知后\bk{2}小时内响应，并在\bk{2}小时内解决问题。};
\node[leaf, anchor=east] (p6i5) at (737,4920) {5、免费维护期为\bk{2}年，自软件验收合格之日起计算。};
\node[leaf, anchor=east] (p6i6) at (737,4990) {6、免费维护期满后，甲方可与乙方另行签订维护协议，乙方提供有偿维护服务。};
\node[leaf, anchor=east] (p6i7) at (737,5065) {7、乙方对软件进行升级时，应及时通知甲方，并为甲方提供优惠的升级服务。};
\node[tag, anchor=east] (p6j) at (825,5190) {第五条 付款方式};
\node[leaf, anchor=east] (p6j1) at (737,5155) {1、本合同签订后\bk{2}日内，甲方向乙方支付合同总额的\bk{2}\%作为预付款。};
\node[leaf, anchor=east] (p6j2) at (737,5225) {2、软件安装调试完毕并验收合格后\bk{2}日内，甲方向乙方支付余款。};
\node[tag, anchor=east] (p6k) at (825,5330) {第六条 违约责任};
\node[leaf, anchor=east] (p6k1) at (737,5330) {任何一方违反本合同约定的，应承担相应的违约责任，赔偿因此给对方造成的损失。};
\node[tag, anchor=east] (p6l) at (825,5445) {第七条 其他};
\node[leaf, anchor=east] (p6l1) at (745,5445) {本合同一式两份，甲乙双方各执一份，自双方签字盖章之日起生效，未尽事宜由双方协商解决。};

\foreach \ch in {p6a,p6b,p6c,p6d,p6e,p6f,p6g,p6h,p6i,p6j,p6k,p6l} \draw[link] (p6.west) -- ++(-3pt,0) |- (\ch.east);
\foreach \ch in {p6f1,p6f2,p6f3,p6f4,p6f5} \draw[link] (p6f.west) -- ++(-3pt,0) |- (\ch.east);
\draw[link] (p6g.west) -- ++(-3pt,0) |- (p6g1.east);
\foreach \ch in {p6h1,p6h2} \draw[link] (p6h.west) -- ++(-3pt,0) |- (\ch.east);
\foreach \ch in {p6i1,p6i2,p6i3,p6i4,p6i5,p6i6,p6i7} \draw[link] (p6i.west) -- ++(-3pt,0) |- (\ch.east);
\foreach \ch in {p6j1,p6j2} \draw[link] (p6j.west) -- ++(-3pt,0) |- (\ch.east);
\draw[link] (p6k.west) -- ++(-3pt,0) |- (p6k1.east);
\draw[link] (p6l.west) -- ++(-3pt,0) |- (p6l1.east);
\end{tikzpicture}
\end{document}
